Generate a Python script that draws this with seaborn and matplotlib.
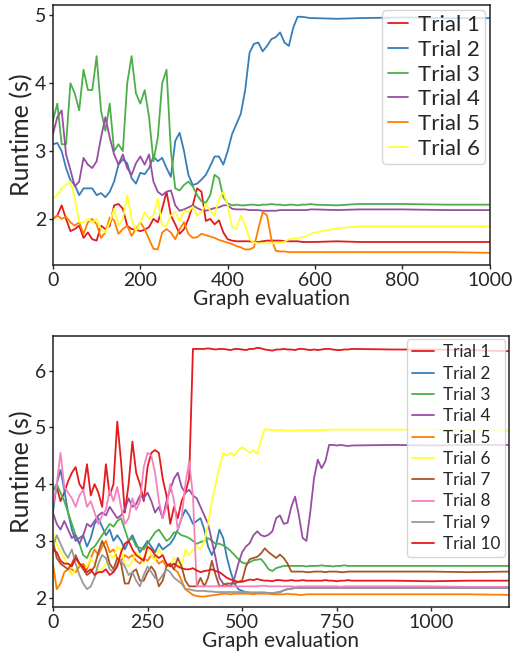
# Runtime por evaluación de grafo: dos paneles con varias ejecuciones

import seaborn as sns
import matplotlib.pyplot as plt
import numpy as np
import pandas as pd

sns.set_theme(style="ticks")
plt.rcParams["font.family"] = ["Lato", "DejaVu Sans"]

# ---------------- panel superior (6 ejecuciones) ----------------
x_arriba = list(range(0, 600, 10)) + [600, 650, 700, 800, 900, 1000]

arriba_t1 = [2.0, 2.05, 2.2, 2.0, 1.82, 1.85, 1.9, 1.72, 1.8, 1.7,
             1.68, 1.9, 1.85, 1.9, 2.2, 2.22, 2.15, 1.9, 1.85, 1.84,
             1.82, 1.84, 1.88, 2.0, 1.95, 2.15, 2.4, 2.05, 1.92, 1.78,
             1.85, 2.0, 2.2, 2.45, 2.4, 1.97, 2.0, 1.92, 1.98, 1.8,
             1.7, 1.68, 1.67, 1.67, 1.67, 1.67, 1.66, 1.66, 1.67, 1.68,
             1.68, 1.68, 1.68, 1.67, 1.67, 1.67, 1.67, 1.66, 1.66, 1.66,
             1.66, 1.67, 1.66, 1.66, 1.66, 1.66]
arriba_t2 = [3.1, 3.12, 3.0, 2.75, 2.57, 2.5, 2.35, 2.45, 2.45, 2.45,
             2.35, 2.38, 2.32, 2.4, 2.55, 2.8, 2.88, 2.82, 2.6, 2.52,
             2.68, 2.66, 2.75, 2.92, 2.85, 2.9, 2.75, 2.62, 3.15, 3.27,
             3.0, 2.65, 2.5, 2.52, 2.58, 2.65, 2.78, 2.92, 2.92, 2.8,
             3.0, 3.25, 3.4, 3.55, 3.9, 4.45, 4.58, 4.6, 4.47, 4.55,
             4.65, 4.68, 4.75, 4.6, 4.55, 4.82, 4.98, 4.98, 4.97, 4.96,
             4.96, 4.95, 4.96, 4.97, 4.96, 4.96]
arriba_t3 = [3.45, 3.7, 3.1, 3.1, 4.0, 3.85, 3.6, 4.2, 3.9, 3.9,
             4.4, 3.6, 3.3, 3.7, 3.0, 3.1, 3.0, 4.0, 4.4, 3.85,
             3.7, 3.9, 3.5, 2.85, 3.2, 4.0, 4.2, 3.0, 2.45, 2.42,
             2.5, 2.55, 2.48, 2.35, 2.26, 2.24, 2.35, 2.65, 2.6, 2.32,
             2.23, 2.2, 2.21, 2.2, 2.2, 2.21, 2.21, 2.2, 2.21, 2.21,
             2.22, 2.21, 2.21, 2.2, 2.21, 2.21, 2.2, 2.21, 2.21, 2.22,
             2.21, 2.2, 2.22, 2.22, 2.21, 2.21]
arriba_t4 = [3.25, 3.5, 3.6, 2.95, 2.72, 2.48, 2.55, 2.9, 2.8, 2.75,
             2.85, 3.2, 3.5, 3.2, 2.95, 2.8, 2.95, 2.75, 2.65, 2.82,
             2.92, 2.8, 2.95, 2.55, 2.4, 2.35, 2.4, 2.42, 2.2, 2.12,
             2.14, 2.17, 2.2, 2.16, 2.13, 2.12, 2.14, 2.16, 2.17, 2.2,
             2.2, 2.15, 2.14, 2.14, 2.14, 2.13, 2.13, 2.13, 2.12, 2.12,
             2.12, 2.12, 2.13, 2.13, 2.13, 2.13, 2.13, 2.13, 2.13, 2.14,
             2.14, 2.13, 2.14, 2.14, 2.13, 2.13]
arriba_t5 = [2.0, 2.05, 2.0, 2.03, 1.95, 1.9, 1.95, 1.78, 1.95, 2.0,
             1.92, 1.72, 1.8, 2.02, 1.98, 1.78, 1.85, 1.9, 1.75, 1.85,
             1.95, 1.85, 1.7, 1.56, 1.55, 1.8, 1.85, 1.8, 1.7, 1.85,
             1.95, 1.78, 1.72, 1.73, 1.78, 1.76, 1.74, 1.72, 1.69, 1.67,
             1.65, 1.63, 1.6, 1.58, 1.55, 1.55, 1.58, 1.85, 2.1, 2.05,
             1.7, 1.53, 1.52, 1.52, 1.51, 1.51, 1.51, 1.51, 1.51, 1.51,
             1.51, 1.51, 1.51, 1.51, 1.51, 1.5]
arriba_t6 = [2.3, 2.35, 2.45, 2.5, 2.55, 2.3, 1.95, 1.95, 2.0, 1.95,
             2.0, 1.85, 1.8, 1.95, 2.15, 1.9, 2.0, 2.35, 2.0, 1.82,
             1.95, 2.1, 2.0, 2.05, 2.3, 1.9, 1.9, 2.05, 2.1, 1.97,
             2.12, 2.1, 2.18, 2.05, 2.1, 2.22, 2.12, 2.05, 2.3, 2.4,
             2.2, 1.88, 1.85, 2.05, 1.9, 1.7, 1.65, 1.64, 1.64, 1.64,
             1.64, 1.64, 1.65, 1.66, 1.7, 1.71, 1.71, 1.73, 1.74, 1.78,
             1.8, 1.86, 1.89, 1.89, 1.89, 1.89]

# ---------------- panel inferior (10 ejecuciones) ----------------
x_abajo = list(range(0, 800, 10)) + [900, 1000, 1100, 1205]

abajo_t1 = [3.9, 3.95, 3.7, 3.85, 4.05, 4.2, 4.3, 4.0, 3.9, 4.35,
            3.8, 4.0, 3.85, 3.6, 4.35, 3.8, 4.0, 5.1, 4.4, 3.5,
            4.0, 4.75, 4.2, 4.0, 3.7, 4.3, 4.55, 4.6, 4.55, 4.1,
            3.8, 3.3, 3.6, 3.4, 3.7, 3.85, 4.1, 6.38, 6.38, 6.38,
            6.38, 6.39, 6.38, 6.37, 6.38, 6.38, 6.37, 6.36, 6.38, 6.38,
            6.37, 6.36, 6.38, 6.38, 6.4, 6.39, 6.37, 6.36, 6.35, 6.37,
            6.37, 6.38, 6.37, 6.37, 6.36, 6.38, 6.38, 6.37, 6.36, 6.37,
            6.36, 6.37, 6.38, 6.38, 6.37, 6.36, 6.36, 6.37, 6.37, 6.38,
            6.37, 6.37, 6.36, 6.34]
abajo_t2 = [3.5, 4.0, 4.25, 3.9, 3.5, 3.2, 3.0, 3.05, 3.1, 2.9,
            3.05, 3.3, 3.4, 3.25, 3.1, 3.2, 3.0, 3.1, 3.0, 2.85,
            3.0, 3.1, 2.95, 2.8, 2.9, 3.0, 2.9, 2.8, 2.95, 2.85,
            2.9, 2.95, 3.05, 3.2, 3.4, 3.55, 3.45, 3.3, 3.35, 3.4,
            3.2, 2.9, 2.75, 2.9, 3.2, 3.05, 2.7, 2.45, 2.25, 2.15,
            2.12, 2.1, 2.09, 2.09, 2.09, 2.09, 2.09, 2.08, 2.08, 2.09,
            2.1, 2.13, 2.15, 2.16, 2.17, 2.17, 2.17, 2.17, 2.17, 2.17,
            2.17, 2.17, 2.17, 2.17, 2.17, 2.17, 2.17, 2.17, 2.17, 2.17,
            2.17, 2.17, 2.17, 2.17]
abajo_t3 = [3.9, 4.0, 3.85, 3.7, 3.5, 3.3, 3.1, 2.95, 2.75, 2.7,
            2.85, 2.9, 3.0, 3.1, 3.2, 3.3, 3.25, 3.35, 3.4, 3.2,
            3.0, 3.05, 2.9, 2.88, 2.85, 2.95, 3.05, 3.15, 3.2, 3.1,
            3.0, 3.05, 3.15, 3.15, 3.1, 3.08, 3.05, 3.0, 2.95, 2.98,
            3.0, 3.05, 3.0, 2.95, 2.95, 2.92, 2.88, 2.82, 2.75, 2.68,
            2.62, 2.6, 2.62, 2.66, 2.67, 2.68, 2.6, 2.5, 2.47, 2.52,
            2.54, 2.56, 2.56, 2.56, 2.56, 2.56, 2.56, 2.55, 2.56, 2.56,
            2.56, 2.57, 2.56, 2.56, 2.55, 2.56, 2.56, 2.57, 2.56, 2.56,
            2.56, 2.56, 2.56, 2.56]
abajo_t4 = [3.5, 3.3, 3.2, 3.35, 3.2, 3.05, 3.1, 2.95, 3.1, 3.3,
            3.25, 3.35, 3.45, 3.5, 3.45, 3.6, 3.5, 3.4, 3.45, 3.55,
            3.75, 3.6, 3.65, 3.8, 3.75, 3.85, 3.7, 3.5, 3.6, 3.4,
            3.7, 3.9, 4.1, 4.2, 3.95, 3.85, 3.9, 3.8, 3.75, 3.6,
            3.45, 3.3, 3.0, 2.7, 2.35, 2.25, 2.22, 2.2, 2.35, 2.6,
            2.8, 2.9, 2.96, 3.1, 3.17, 3.1, 3.08, 3.11, 3.17, 3.4,
            3.45, 3.3, 3.32, 3.6, 3.78, 3.45, 3.05, 3.0, 3.5, 4.1,
            4.43, 4.28, 4.4, 4.69, 4.69, 4.68, 4.69, 4.68, 4.67, 4.68,
            4.69, 4.68, 4.69, 4.69]
abajo_t5 = [2.6, 2.15, 2.25, 2.45, 2.5, 2.5, 2.45, 2.55, 2.6, 2.5,
            2.7, 2.85, 2.75, 2.9, 3.0, 2.8, 2.85, 2.7, 2.65, 2.75,
            2.7, 2.75, 2.65, 2.6, 2.7, 2.65, 2.75, 2.7, 2.6, 2.65,
            2.55, 2.6, 2.5, 2.45, 2.3, 2.15, 2.1, 2.05, 2.03, 2.02,
            2.02, 2.03, 2.04, 2.05, 2.06, 2.07, 2.07, 2.06, 2.07, 2.07,
            2.07, 2.07, 2.07, 2.06, 2.07, 2.07, 2.07, 2.07, 2.06, 2.06,
            2.06, 2.06, 2.07, 2.06, 2.06, 2.05, 2.05, 2.06, 2.06, 2.06,
            2.06, 2.06, 2.06, 2.06, 2.06, 2.06, 2.06, 2.06, 2.06, 2.06,
            2.06, 2.06, 2.06, 2.05]
abajo_t6 = [3.15, 2.95, 2.8, 2.7, 2.55, 2.4, 2.5, 2.6, 2.5, 2.55,
            2.7, 2.6, 2.45, 2.5, 2.6, 2.75, 2.7, 2.9, 2.85, 2.6,
            2.55, 2.65, 2.8, 2.75, 2.6, 2.9, 2.75, 2.65, 2.85, 2.75,
            2.6, 2.55, 2.7, 2.6, 2.55, 2.85, 2.75, 2.85, 2.9, 2.85,
            3.0, 3.3, 3.7, 4.0, 4.3, 4.55, 4.5, 4.55, 4.5, 4.6,
            4.65, 4.6, 4.55, 4.6, 4.53, 4.78, 4.97, 4.96, 4.95, 4.95,
            4.95, 4.95, 4.94, 4.94, 4.94, 4.95, 4.95, 4.95, 4.95, 4.95,
            4.95, 4.95, 4.95, 4.96, 4.96, 4.96, 4.96, 4.96, 4.96, 4.96,
            4.96, 4.96, 4.95, 4.94]
abajo_t7 = [3.0, 2.7, 2.6, 2.55, 2.5, 2.6, 2.75, 2.6, 2.5, 2.4,
            2.45, 2.55, 2.8, 3.0, 2.85, 2.6, 2.5, 2.7, 2.6, 2.25,
            2.25, 2.45, 2.5, 2.3, 2.3, 2.45, 2.55, 2.45, 2.2, 2.3,
            2.55, 2.6, 2.5, 2.7, 2.55, 2.3, 2.2, 2.2, 2.2, 2.35,
            2.2, 2.35, 2.65, 2.4, 2.2, 2.22, 2.25, 2.25, 2.25, 2.28,
            2.3, 2.55, 2.68, 2.7, 2.72, 2.78, 2.87, 2.8, 2.75, 2.7,
            2.76, 2.7, 2.6, 2.46, 2.46, 2.46, 2.46, 2.45, 2.45, 2.46,
            2.46, 2.46, 2.45, 2.46, 2.46, 2.46, 2.45, 2.45, 2.46, 2.46,
            2.46, 2.46, 2.45, 2.46]
abajo_t8 = [3.6, 4.0, 4.55, 3.95, 3.85, 3.75, 3.6, 3.8, 3.9, 3.6,
            3.7, 3.5, 3.3, 3.45, 3.55, 3.9, 3.7, 3.95, 3.6, 3.3,
            3.4, 3.75, 3.55, 3.7, 4.3, 4.55, 4.5, 4.2, 3.7, 3.4,
            3.6, 4.0, 3.7, 3.2, 3.4, 4.0, 4.4, 3.8, 2.2, 2.2,
            2.2, 2.2, 2.2, 2.2, 2.2, 2.2, 2.2, 2.2, 2.2, 2.2,
            2.2, 2.2, 2.2, 2.2, 2.2, 2.21, 2.21, 2.2, 2.2, 2.2,
            2.2, 2.2, 2.2, 2.2, 2.19, 2.2, 2.2, 2.2, 2.2, 2.2,
            2.2, 2.2, 2.2, 2.2, 2.2, 2.2, 2.19, 2.2, 2.2, 2.2,
            2.2, 2.2, 2.19, 2.19]
abajo_t9 = [2.9, 3.1, 2.95, 2.8, 2.7, 2.85, 2.6, 2.4, 2.25, 2.15,
            2.2, 2.35, 2.6, 2.75, 2.7, 2.5, 2.45, 2.6, 2.65, 2.55,
            2.4, 2.45, 2.3, 2.2, 2.4, 2.55, 2.45, 2.35, 2.3, 2.4,
            2.5, 2.45, 2.35, 2.3, 2.25, 2.15, 2.15, 2.13, 2.12, 2.12,
            2.12, 2.11, 2.11, 2.1, 2.1, 2.1, 2.1, 2.1, 2.1, 2.1,
            2.1, 2.1, 2.09, 2.09, 2.09, 2.09, 2.09, 2.08, 2.08, 2.09,
            2.1, 2.13, 2.15, 2.16, 2.17, 2.17, 2.17, 2.17, 2.17, 2.17,
            2.17, 2.17, 2.17, 2.17, 2.17, 2.17, 2.17, 2.17, 2.17, 2.17,
            2.17, 2.17, 2.17, 2.17]
abajo_t10 = [2.85, 2.8, 2.65, 2.6, 2.6, 2.55, 2.7, 2.6, 2.55, 2.45,
             2.5, 2.4, 2.45, 2.45, 2.5, 2.4, 2.45, 2.55, 2.8, 2.95,
             3.0, 2.85, 2.75, 2.7, 2.65, 2.9, 2.85, 2.75, 2.7, 2.75,
             2.6, 2.55, 2.6, 2.55, 2.52, 2.5, 2.5, 2.52, 2.48, 2.45,
             2.47, 2.48, 2.5, 2.47, 2.45, 2.4, 2.35, 2.32, 2.3, 2.28,
             2.28, 2.3, 2.32, 2.31, 2.33, 2.31, 2.3, 2.3, 2.29, 2.31,
             2.31, 2.3, 2.3, 2.31, 2.3, 2.3, 2.31, 2.3, 2.3, 2.3,
             2.3, 2.3, 2.31, 2.3, 2.3, 2.29, 2.3, 2.3, 2.31, 2.3,
             2.3, 2.29, 2.3, 2.3]

series_arriba = [arriba_t1, arriba_t2, arriba_t3, arriba_t4, arriba_t5, arriba_t6]
series_abajo = [abajo_t1, abajo_t2, abajo_t3, abajo_t4, abajo_t5,
                abajo_t6, abajo_t7, abajo_t8, abajo_t9, abajo_t10]


def a_tabla(x, series):
    partes = []
    for i, y in enumerate(series):
        partes.append(pd.DataFrame({"eval": x, "runtime": y,
                                    "trial": f"Trial {i + 1}"}))
    return pd.concat(partes, ignore_index=True)


df_arriba = a_tabla(x_arriba, series_arriba)
df_abajo = a_tabla(x_abajo, series_abajo)

set1 = sns.color_palette("Set1", 9)
colores_arriba = set1[:6]
colores_abajo = set1 + [set1[0]]

fig = plt.figure(figsize=(5.14, 6.56), dpi=100)
ax1 = fig.add_axes([0.103, 0.596, 0.850, 0.396])
ax2 = fig.add_axes([0.103, 0.075, 0.887, 0.413])

for ax, df, pal in [(ax1, df_arriba, colores_arriba),
                    (ax2, df_abajo, colores_abajo)]:
    sns.lineplot(data=df, x="eval", y="runtime", hue="trial", palette=pal,
                 estimator=None, sort=False, linewidth=1.3, ax=ax)
    ax.set_xlabel("Graph evaluation", fontsize=15, labelpad=0)
    ax.set_ylabel("Runtime (s)", fontsize=18, labelpad=1)
    ax.tick_params(labelsize=14, length=3, width=1, pad=2)
    for s in ax.spines.values():
        s.set_color("#222222")
        s.set_linewidth(1.1)

ax1.set_xlim(0, 1000)
ax1.set_ylim(1.32, 5.15)
ax1.set_xticks([0, 200, 400, 600, 800, 1000])
ax1.set_yticks([2, 3, 4, 5])

ax2.set_xlim(0, 1205)
ax2.set_ylim(1.84, 6.61)
ax2.set_xticks([0, 250, 500, 750, 1000])
ax2.set_yticks([2, 3, 4, 5, 6])

h, l = ax1.get_legend_handles_labels()
ax1.legend(h, l, loc="upper right", fontsize=16, labelspacing=0.21,
           handlelength=0.9, handletextpad=0.45, borderpad=0.25,
           borderaxespad=0.2, framealpha=0.8)
h, l = ax2.get_legend_handles_labels()
ax2.legend(h, l, loc="upper right", fontsize=12.3, labelspacing=0.31,
           handlelength=1.3, handletextpad=0.5, borderpad=0.3,
           borderaxespad=0.2, framealpha=0.8)

fig.savefig("out.png", dpi=100)
